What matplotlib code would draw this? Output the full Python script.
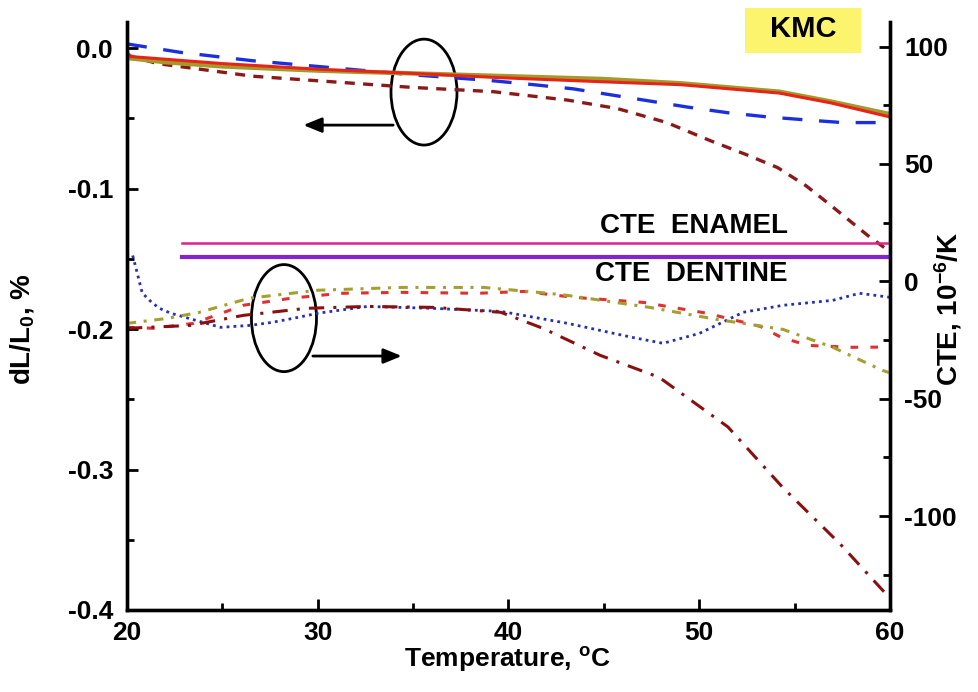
import matplotlib
matplotlib.use('Agg')
import matplotlib.pyplot as plt
from matplotlib.patches import Ellipse, Rectangle
from matplotlib.ticker import MultipleLocator, FormatStrFormatter

plt.rcParams['font.family'] = ['Liberation Sans', 'DejaVu Sans']
plt.rcParams['font.weight'] = 'bold'
plt.rcParams['axes.labelweight'] = 'bold'
plt.rcParams['axes.unicode_minus'] = False
plt.rcParams['mathtext.fontset'] = 'custom'
plt.rcParams['mathtext.rm'] = 'Liberation Sans:bold'
plt.rcParams['mathtext.it'] = 'Liberation Sans:bold'
plt.rcParams['mathtext.default'] = 'rm'

# ── dL/L0 curves (left axis, %) ────────────────────────────────────────────
t_red = [20, 20.2, 25, 30, 35, 39.5, 45, 49, 54.2, 56.9, 60]
dl_red = [-0.003, -0.006, -0.011, -0.015, -0.018, -0.021, -0.024, -0.026,
          -0.032, -0.039, -0.049]

t_olive = [20, 22, 25, 30, 35, 40, 45, 49, 54.2, 56.9, 60]
dl_olive = [-0.007, -0.010, -0.013, -0.016, -0.018, -0.020, -0.022, -0.025,
            -0.031, -0.038, -0.047]

t_blue = [20, 22.8, 26.6, 30.8, 35, 39, 41.3, 43.4, 47.1, 49.4, 51.5, 53.6,
          55.5, 57.5, 60]
dl_blue = [0.003, -0.003, -0.009, -0.014, -0.019, -0.023, -0.026, -0.029,
           -0.037, -0.042, -0.046, -0.049, -0.051, -0.053, -0.053]

t_maroon = [20, 21.6, 26.6, 30.8, 35, 39.2, 43.1, 45.7, 48.3, 50.6, 52.5,
            54.1, 55.6, 56.9, 58.8, 60]
dl_maroon = [-0.005, -0.011, -0.020, -0.024, -0.028, -0.031, -0.037, -0.043,
             -0.053, -0.066, -0.076, -0.085, -0.098, -0.112, -0.133, -0.145]

# ── CTE curves (right axis, 10^-6/K) ───────────────────────────────────────
t_cte_blue = [20.3, 20.5, 20.8, 21.3, 21.7, 22.3, 23.6, 24.9, 26.4, 27.6,
              29.0, 30.0, 32.6, 36.0, 39.6, 43.1, 46.5, 48.1, 50.0, 52.3,
              54.4, 57.0, 58.4, 60]
cte_blue = [11, 4.7, -5, -9, -11.5, -13.6, -16.6, -19.6, -18.8, -17.5,
            -15.3, -13.6, -10.7, -11.5, -12.8, -17.9, -23.9, -26.4, -22.2,
            -13.2, -10.2, -8.1, -5.1, -6.8]

t_cte_red = [20, 21.4, 23.5, 26.1, 28.6, 31.2, 34.4, 38.4, 40.8, 43.4, 47.1,
             50.4, 53.2, 54.3, 55.7, 58, 60]
cte_red = [-19.6, -20, -17.9, -10.2, -7.2, -5.1, -4.7, -5.1, -4.3, -6.8,
           -9.0, -13.6, -19.2, -23.9, -27.3, -28.1, -28]

t_cte_olive = [20, 22.1, 23.8, 26.4, 30, 34.4, 38.7, 42.1, 43.1, 47.4, 50.9,
               54.4, 57, 59.6, 60]
cte_olive = [-17.9, -15.8, -13.2, -7.2, -3.8, -2.6, -2.6, -5.1, -6.0, -11.1,
             -16.2, -20.5, -28.1, -37.9, -39]

t_cte_maroon = [20, 23.3, 26.1, 29.4, 32.6, 36.1, 39.6, 41.8, 44.8, 47.9,
                51.5, 54.4, 57.4, 60]
cte_maroon = [-20, -18.8, -14.5, -11.5, -10.7, -11.1, -13.2, -20, -31.5,
              -40.9, -62, -88, -112, -135]

t_ref = [22.9, 60]
cte_enamel = [16.2, 16.2]
cte_dentine = [10.3, 10.3]

# ── figure ────────────────────────────────────────────────────────────────
fig = plt.figure(figsize=(9.79, 6.92), dpi=100)
ax1 = fig.add_axes([0.1297, 0.1185, 0.9091 - 0.1297, 0.968 - 0.1185])
ax2 = ax1.twinx()

ax1.plot(t_blue, dl_blue, color='#1a30e0', lw=2.4, ls=(0, (6, 5)))
ax1.plot(t_maroon, dl_maroon, color='#8a1a1a', lw=2.4, ls=(0, (3, 2.5)))
ax1.plot(t_olive, dl_olive, color='#a49a2c', lw=3.2)
ax1.plot(t_red, dl_red, color='#e82418', lw=2.2)

ax2.plot(t_ref, cte_enamel, color='#e0208c', lw=1.8)
ax2.plot(t_ref, cte_dentine, color='#8424d0', lw=3.0)
ax2.plot(t_cte_blue, cte_blue, color='#2430b0', lw=2.0, ls=(0, (1, 1.5)))
ax2.plot(t_cte_red, cte_red, color='#e03030', lw=2.2, ls=(0, (2.5, 4)))
ax2.plot(t_cte_olive, cte_olive, color='#a4a030', lw=2.2,
         ls=(0, (3, 2.5, 1, 2.5)))
ax2.plot(t_cte_maroon, cte_maroon, color='#8a1010', lw=2.2,
         ls=(0, (5, 3, 1, 3)))

ax1.set_xlim(20, 60)
ax1.set_ylim(-0.4, 0.0185)
ax2.set_ylim(-140, 110.4)

ax1.xaxis.set_major_locator(MultipleLocator(10))
ax1.xaxis.set_minor_locator(MultipleLocator(5))
ax1.yaxis.set_major_locator(MultipleLocator(0.1))
ax1.yaxis.set_minor_locator(MultipleLocator(0.05))
ax2.yaxis.set_major_locator(MultipleLocator(50))
ax2.yaxis.set_minor_locator(MultipleLocator(25))
ax1.yaxis.set_major_formatter(FormatStrFormatter('%.1f'))

for ax in (ax1, ax2):
    ax.spines['top'].set_visible(False)
    for s in ax.spines.values():
        s.set_linewidth(2.4)
    ax.tick_params(which='major', direction='in', length=8, width=2,
                   labelsize=19, pad=10)
    ax.tick_params(which='minor', direction='in', length=5, width=2)
ax1.tick_params(axis='x', pad=8)

ax1.set_xlabel('Temperature, $^{o}$C', fontsize=19)
ax1.set_ylabel('dL/L$_0$, %', fontsize=20)
ax2.set_ylabel('CTE, 10$^{-6}$/K', fontsize=20)
for lab in (ax1.xaxis.label, ax1.yaxis.label, ax2.yaxis.label):
    lab.set_va('center')
ax1.xaxis.set_label_coords(0.4993, -0.085)
ax1.yaxis.set_label_coords(-0.1376, 0.478)
ax2.yaxis.set_label_coords(1.076, 0.513)

# ellipses and arrows marking which axis each curve group belongs to
ax1.add_patch(Ellipse((35.57, -0.0313), 3.46, 0.0754, fill=False,
                      ec='black', lw=2.0))
ax1.annotate('', xy=(29.1, -0.0548), xytext=(34.1, -0.0548),
             arrowprops=dict(arrowstyle='-|>,head_length=1.1,head_width=0.45',
                             color='black', lw=2.0))
ax1.add_patch(Ellipse((28.23, -0.1922), 3.41, 0.0762, fill=False,
                      ec='black', lw=2.0))
ax1.annotate('', xy=(34.55, -0.2192), xytext=(29.6, -0.2192),
             arrowprops=dict(arrowstyle='-|>,head_length=1.1,head_width=0.45',
                             color='black', lw=2.0))

ax2.text(49.7, 23.4, 'CTE  ENAMEL', ha='center', va='center', fontsize=20,
         fontweight='bold')
ax2.text(49.6, 3.0, 'CTE  DENTINE', ha='center', va='center', fontsize=20,
         fontweight='bold')

fig.patches.append(Rectangle((745 / 979, 1 - 53 / 692), 116 / 979, 45 / 692,
                             transform=fig.transFigure, fc='#fbf46c',
                             ec='none'))
fig.text(803 / 979, 1 - 29 / 692, 'KMC', ha='center', va='center',
         fontsize=21, fontweight='bold')

fig.savefig('out.png', dpi=100)
